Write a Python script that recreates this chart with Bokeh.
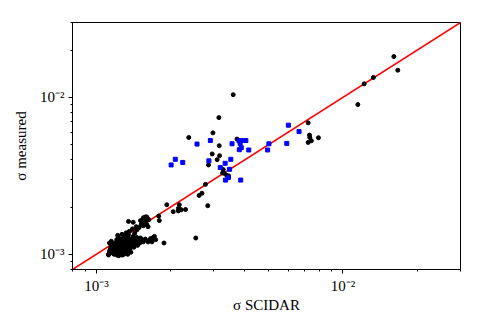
from bokeh.plotting import figure
from bokeh.models import FixedTicker, CustomJSTickFormatter, Range1d
from bokeh.embed import file_html
from bokeh.resources import INLINE

# ---- data ----
axis_bounds = [8e-4, 3e-2]
ref_line = [8e-4, 3e-2]
major_ticks = [1e-3, 1e-2]
minor_ticks = [8e-4, 9e-4, 2e-3, 3e-3, 4e-3, 5e-3, 6e-3, 7e-3, 8e-3, 9e-3, 2e-2, 3e-2]

black_x = [
    0.0161, 0.0167, 0.0133, 0.0122, 0.0115, 0.00359, 0.00314, 0.00297, 0.00237,
    0.00723, 0.00732, 0.00734, 0.00796, 0.00745, 0.00723, 0.00372, 0.00315,
    0.00295, 0.00316, 0.00309, 0.00285, 0.00327, 0.00325, 0.00330, 0.00338,
    0.00344, 0.00343, 0.00277, 0.00268, 0.00261, 0.00283, 0.00217, 0.00215,
    0.00218, 0.00215, 0.00221, 0.00230, 0.00205, 0.00193, 0.00253, 0.00179,
    0.00180, 0.00188,
    # dense cluster
    0.00112, 0.00112, 0.00113, 0.00114, 0.00115, 0.00113, 0.00116, 0.00117,
    0.00115, 0.00117, 0.00116, 0.00118,
    0.00119, 0.00120, 0.00120, 0.00121, 0.00122, 0.00122, 0.00123, 0.00123,
    0.00119, 0.00124, 0.00121, 0.00124, 0.00122,
    0.00125, 0.00126, 0.00126, 0.00127, 0.00128, 0.00128, 0.00129, 0.00130,
    0.00130, 0.00127, 0.00131, 0.00125, 0.00129, 0.00131, 0.00126,
    0.00132, 0.00133, 0.00133, 0.00134, 0.00134, 0.00135, 0.00135, 0.00136,
    0.00137, 0.00137, 0.00138, 0.00132, 0.00136, 0.00138,
    0.00139, 0.00140, 0.00141, 0.00141, 0.00142, 0.00143, 0.00143, 0.00144,
    0.00145, 0.00146, 0.00140, 0.00146, 0.00142, 0.00145,
    0.00148, 0.00149, 0.00150, 0.00151, 0.00152, 0.00153, 0.00155, 0.00149,
    0.00152, 0.00155, 0.00157, 0.00154, 0.00158,
    0.00162, 0.00165, 0.00168, 0.00163, 0.00158, 0.00160, 0.00162, 0.00160,
    0.00135, 0.00141, 0.00151, 0.00155, 0.00158, 0.00160, 0.00160, 0.00162,
    0.00174, 0.00170, 0.00166, 0.00172, 0.00118, 0.00121, 0.00124, 0.00128,
    0.00131, 0.00134, 0.00138, 0.00126, 0.00129, 0.00123, 0.00144, 0.00147,
]
black_y = [
    0.0182, 0.0149, 0.0134, 0.0122, 0.0090, 0.0104, 0.00743, 0.00594, 0.00555,
    0.00688, 0.00575, 0.00555, 0.00553, 0.00529, 0.00516, 0.00542, 0.00492,
    0.00436, 0.00425, 0.00401, 0.00371, 0.00347, 0.00330, 0.00328, 0.00318,
    0.00316, 0.00310, 0.00279, 0.00245, 0.00237, 0.00204, 0.00207, 0.00196,
    0.00194, 0.00189, 0.00192, 0.00193, 0.00187, 0.00207, 0.00127, 0.00175,
    0.00164, 0.00118,
    # dense cluster
    0.00100, 0.00099, 0.00105, 0.00110, 0.00114, 0.00118, 0.00102, 0.00108,
    0.00121, 0.00116, 0.00112, 0.00100,
    0.00104, 0.00111, 0.00119, 0.00124, 0.00101, 0.00107, 0.00115, 0.00128,
    0.00117, 0.00112, 0.00099, 0.00121, 0.00132,
    0.00104, 0.00109, 0.00118, 0.00125, 0.00100, 0.00113, 0.00121, 0.00106,
    0.00130, 0.00134, 0.00116, 0.00122, 0.00102, 0.00126, 0.00114,
    0.00109, 0.00119, 0.00123, 0.00104, 0.00128, 0.00113, 0.00133, 0.00117,
    0.00121, 0.00108, 0.00125, 0.00137, 0.00140, 0.00112,
    0.00118, 0.00122, 0.00115, 0.00130, 0.00120, 0.00125, 0.00136, 0.00118,
    0.00122, 0.00128, 0.00145, 0.00143, 0.00111, 0.00150,
    0.00120, 0.00124, 0.00118, 0.00127, 0.00121, 0.00124, 0.00120, 0.00148,
    0.00155, 0.00152, 0.00160, 0.00158, 0.00125,
    0.00120, 0.00124, 0.00120, 0.00166, 0.00170, 0.00173, 0.00168, 0.00155,
    0.00162, 0.00160, 0.00164, 0.00171, 0.00173, 0.00165, 0.00169, 0.00150,
    0.00124, 0.00128, 0.00126, 0.00130, 0.00106, 0.00103, 0.00109, 0.00099,
    0.00101, 0.00100, 0.00103, 0.00099, 0.00107, 0.00098, 0.00116, 0.00114,
]

blue_x = [
    0.00601, 0.00664, 0.00592, 0.00501, 0.00495, 0.00256, 0.00290, 0.00355,
    0.00379, 0.00388, 0.00404, 0.00383, 0.00387, 0.00380, 0.00415, 0.00201,
    0.00209, 0.00224, 0.00286, 0.00318, 0.00333, 0.00351, 0.00347, 0.00334,
    0.00343, 0.00385,
]
blue_y = [
    0.00665, 0.00606, 0.00509, 0.00506, 0.00462, 0.00504, 0.00531, 0.00506,
    0.00529, 0.00531, 0.00531, 0.00509, 0.00478, 0.00464, 0.00462, 0.00371,
    0.00403, 0.00385, 0.00394, 0.00357, 0.00380, 0.00403, 0.00348, 0.00297,
    0.00308, 0.00297,
]

x_label = "σ SCIDAR"
y_label = "σ measured"

# ---- figure ----
p = figure(
    frame_width=388, frame_height=247,
    x_axis_type="log", y_axis_type="log",
    x_range=Range1d(axis_bounds[0], axis_bounds[1]),
    y_range=Range1d(axis_bounds[0], axis_bounds[1]),
    output_backend="svg", toolbar_location=None,
    min_border_left=72, min_border_right=17,
    min_border_top=22, min_border_bottom=30,
    background_fill_color="white", border_fill_color="white",
)

p.line(ref_line, ref_line, line_color="red", line_width=1.5)
p.scatter(black_x, black_y, marker="circle", size=4,
          fill_color="black", line_color="black")
p.scatter(blue_x, blue_y, marker="square", size=4,
          fill_color="#0000ff", line_color="#0000ff")

fmt = CustomJSTickFormatter(code="""
const e = Math.round(Math.log10(tick));
const sup = {"-": "\\u207b", "0": "\\u2070", "1": "\\u00b9", "2": "\\u00b2",
             "3": "\\u00b3", "4": "\\u2074", "5": "\\u2075", "6": "\\u2076",
             "7": "\\u2077", "8": "\\u2078", "9": "\\u2079"};
let s = "";
for (const c of String(e)) { s += sup[c]; }
return "10" + s;
""")

for ax in (p.xaxis, p.yaxis):
    ax.ticker = FixedTicker(ticks=major_ticks, minor_ticks=minor_ticks)
    ax.formatter = fmt
    ax.axis_line_color = "black"
    ax.major_tick_line_color = "black"
    ax.minor_tick_line_color = "black"
    ax.major_tick_in = 0
    ax.major_tick_out = 4
    ax.minor_tick_in = 0
    ax.minor_tick_out = 2
    ax.major_label_text_font = "Liberation Serif"
    ax.major_label_text_font_size = "15px"
    ax.major_label_text_color = "black"
    ax.axis_label_text_font = "Liberation Serif"
    ax.axis_label_text_font_style = "normal"
    ax.axis_label_text_font_size = "15px"
    ax.axis_label_text_color = "black"

p.xaxis.axis_label = x_label
p.yaxis.axis_label = y_label
p.xaxis.major_label_standoff = 4
p.yaxis.major_label_standoff = 4
p.xaxis.axis_label_standoff = 0
p.yaxis.axis_label_standoff = 8

p.xgrid.visible = False
p.ygrid.visible = False
p.outline_line_color = "black"
p.outline_line_width = 1
p.outline_line_alpha = 1

open("out.html", "w").write(file_html(p, INLINE))
